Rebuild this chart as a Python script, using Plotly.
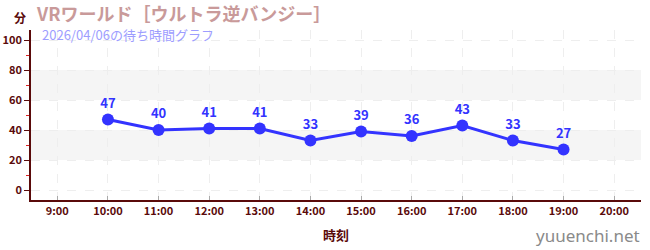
import plotly.graph_objects as go

hours = [10, 11, 12, 13, 14, 15, 16, 17, 18, 19]
waits = [47, 40, 41, 41, 33, 39, 36, 43, 33, 27]
tick_hours = [9, 10, 11, 12, 13, 14, 15, 16, 17, 18, 19, 20]
tick_labels = ["9:00", "10:00", "11:00", "12:00", "13:00", "14:00", "15:00",
               "16:00", "17:00", "18:00", "19:00", "20:00"]
y_ticks = [0, 20, 40, 60, 80, 100]
bands = [(20, 40), (60, 80)]
title = "VRワールド［ウルトラ逆バンジー］"
subtitle = "2026/04/06の待ち時間グラフ"
x_title = "時刻"
y_unit = "分"
credit = "yuuenchi.net"

FONT = "Noto Sans CJK JP"
AXIS = "#5a0a0a"
BLUE = "#3333ff"

fig = go.Figure()
fig.add_trace(go.Scatter(
    x=hours, y=waits, mode="lines+markers+text",
    text=[str(v) for v in waits], textposition="top center",
    textfont=dict(family=FONT, size=13, color=BLUE, weight="bold"),
    line=dict(color=BLUE, width=3),
    marker=dict(color=BLUE, size=12),
    cliponaxis=False, hoverinfo="skip",
))

shapes = []
for lo, hi in bands:
    shapes.append(dict(type="rect", xref="paper", yref="y", x0=0, x1=1, y0=lo, y1=hi,
                       fillcolor="#f5f5f5", line=dict(width=0), layer="below"))

fig.update_layout(
    width=650, height=250,
    margin=dict(l=31, r=9, t=30, b=50),
    paper_bgcolor="white", plot_bgcolor="white",
    showlegend=False,
    shapes=shapes,
    font=dict(family=FONT, color=AXIS),
    xaxis=dict(
        range=[8.48, 20.53], tickvals=tick_hours, ticktext=tick_labels,
        automargin=False,
        showline=True, linecolor=AXIS, linewidth=1.5,
        ticks="inside", ticklen=4, tickcolor="#aaaaaa",
        showgrid=True, gridcolor="#eeeeee", griddash="dash",
        tickfont=dict(family=FONT, size=11, color=AXIS, weight="bold"),
        zeroline=False,
        title=dict(text=x_title, font=dict(family=FONT, size=13, color=AXIS, weight="bold"),
                   standoff=14),
    ),
    yaxis=dict(
        range=[-6.67, 106.67], tickvals=y_ticks,
        automargin=False,
        showline=True, linecolor=AXIS, linewidth=1.5,
        ticks="outside", ticklen=5, tickcolor=AXIS,
        showgrid=True, gridcolor="#eeeeee", griddash="dash",
        tickfont=dict(family=FONT, size=11, color=AXIS, weight="bold"),
        zeroline=False,
        minor=dict(tickvals=[10, 30, 50, 70, 90], ticks="outside", ticklen=3,
                   tickcolor="#dd2222", showgrid=False),
    ),
    annotations=[
        dict(text=title, xref="paper", yref="paper", x=0, y=1, xshift=3, yshift=17,
             xanchor="left", yanchor="middle", showarrow=False,
             font=dict(family=FONT, size=18, color="#c99a9a", weight="bold")),
        dict(text=subtitle, xref="paper", yref="paper", x=0, y=1, xshift=9, yshift=-4,
             xanchor="left", yanchor="middle", showarrow=False,
             font=dict(family=FONT, size=13, color="#9d9dff")),
        dict(text=y_unit, xref="paper", yref="paper", x=0, y=1, xshift=-11, yshift=13,
             xanchor="center", yanchor="middle", showarrow=False,
             font=dict(family=FONT, size=12, color=AXIS, weight="bold")),
        dict(text=credit, xref="paper", yref="paper", x=1, y=0, xshift=1, yshift=-35,
             xanchor="right", yanchor="middle", showarrow=False,
             font=dict(family="Noto Sans", size=17, color="#8a8a8a")),
    ],
)

fig.write_html("out.html")
